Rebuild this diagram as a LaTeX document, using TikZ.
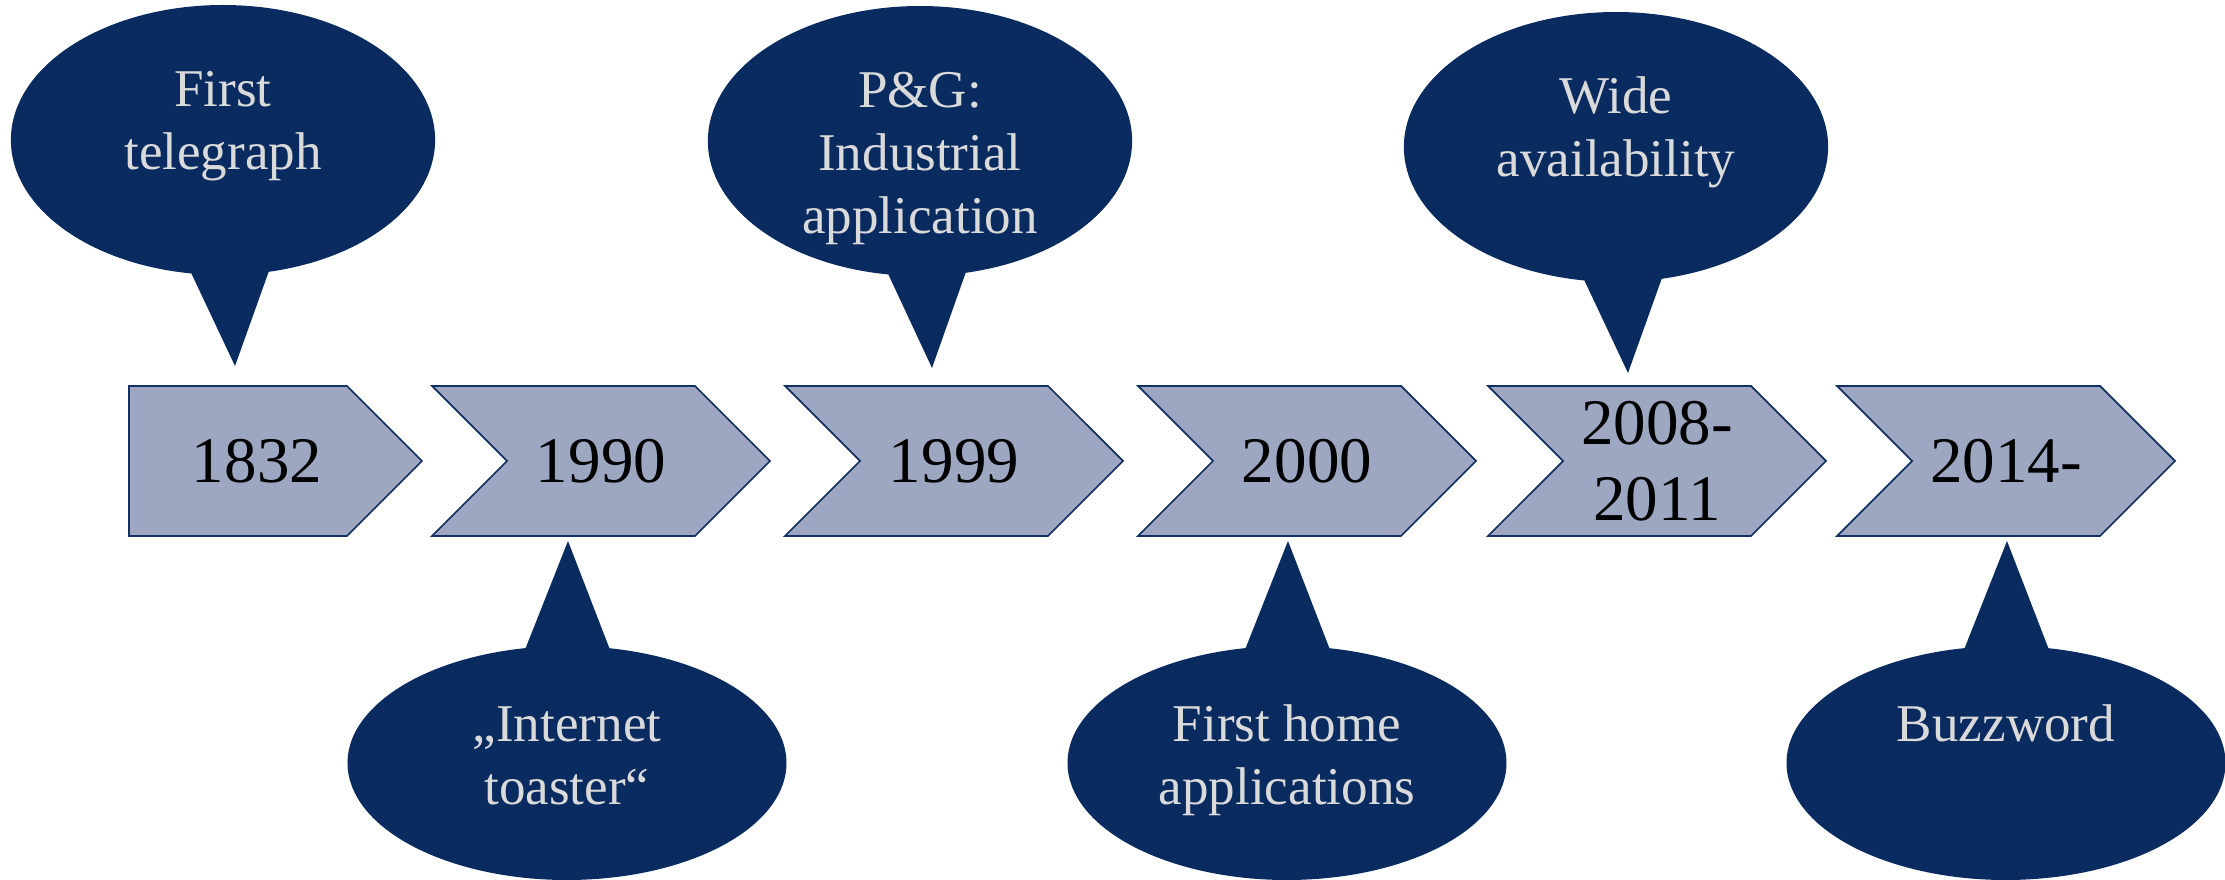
\documentclass[tikz,border=0pt]{standalone}
\usepackage{fontspec}
\setmainfont{Liberation Serif}
\usetikzlibrary{calc,shapes.symbols,shapes.callouts}

\definecolor{bubblenavy}{RGB}{10,43,96}
\definecolor{chevfill}{RGB}{158,167,194}
\definecolor{chevline}{RGB}{18,48,98}
\definecolor{bubbletext}{RGB}{218,218,218}

\newcommand\bubup[1]{\parbox[c][15.6mm][t]{30mm}{\centering\strut#1}}
\newcommand\bubdown[1]{\parbox[c][13.2mm][t]{30mm}{\centering\strut#1}}

\tikzset{
	datebox/.style={signal, signal to=east, signal from=west, draw=chevline, fill=chevfill,
		line width=0.5pt, minimum width=33.8mm, minimum height=15mm, inner sep=0pt,
		align=center, font=\fontsize{18.5}{21.6}\selectfont},
	bubble/.style={ellipse callout, fill=bubblenavy, inner sep=0pt,
		text=bubbletext, font=\fontsize{15.1}{18}\selectfont},
	bubble up/.style={bubble, callout pointer arc=21, minimum width=42.4mm, minimum height=27mm},
	bubble down/.style={bubble, callout pointer arc=22, minimum width=43.9mm, minimum height=23.4mm}
}

\begin{document}
\begin{tikzpicture}[x=0.1mm, y=-0.1mm]
			%%%%% START %%%%%
			\useasboundingbox (0, 0) rectangle (2225, 880);
			
			\node[datebox, signal from=nowhere, minimum width=29.3mm] (c1832) at (238, 461) {\hspace*{3.8mm}1832};
			\node[datebox] (c1990) at (601, 461) {1990};
			\node[datebox] (c1999) at (954, 461) {1999};
			\node[datebox] (c2000) at (1307, 461) {2000};
			\node[datebox] (c2008) at (1657, 461) {2008-\\2011};
			\node[datebox] (c2014) at (2006, 461) {2014-};
			
			\node[bubble up, callout absolute pointer={($(c1832)+(-3, -95)$)}] (b1832) at (223, 140) {\bubup{First\\telegraph}};
			\node[bubble up, callout absolute pointer={($(c1999)+(-22, -93)$)}] (b1999) at (920, 141) {\bubup{P\&G:\\Industrial\\application}};
			\node[bubble up, callout absolute pointer={($(c2008)+(-29, -88)$)}] (b2008) at (1616, 147) {\bubup{Wide\\availability}};
			
			\node[bubble down, callout absolute pointer={($(c1990)+(-33, 80)$)}] (b1990) at (567, 763) {\bubdown{„Internet\\toaster“}};
			\node[bubble down, callout absolute pointer={($(c2000)+(-19, 80)$)}] (b2000) at (1287, 763) {\bubdown{First home\\applications}};
			\node[bubble down, callout absolute pointer={($(c2014)+(1, 80)$)}] (b2014) at (2006, 763) {\bubdown{Buzzword}};
			
			%%%%% END %%%%%
\end{tikzpicture}
\end{document}
